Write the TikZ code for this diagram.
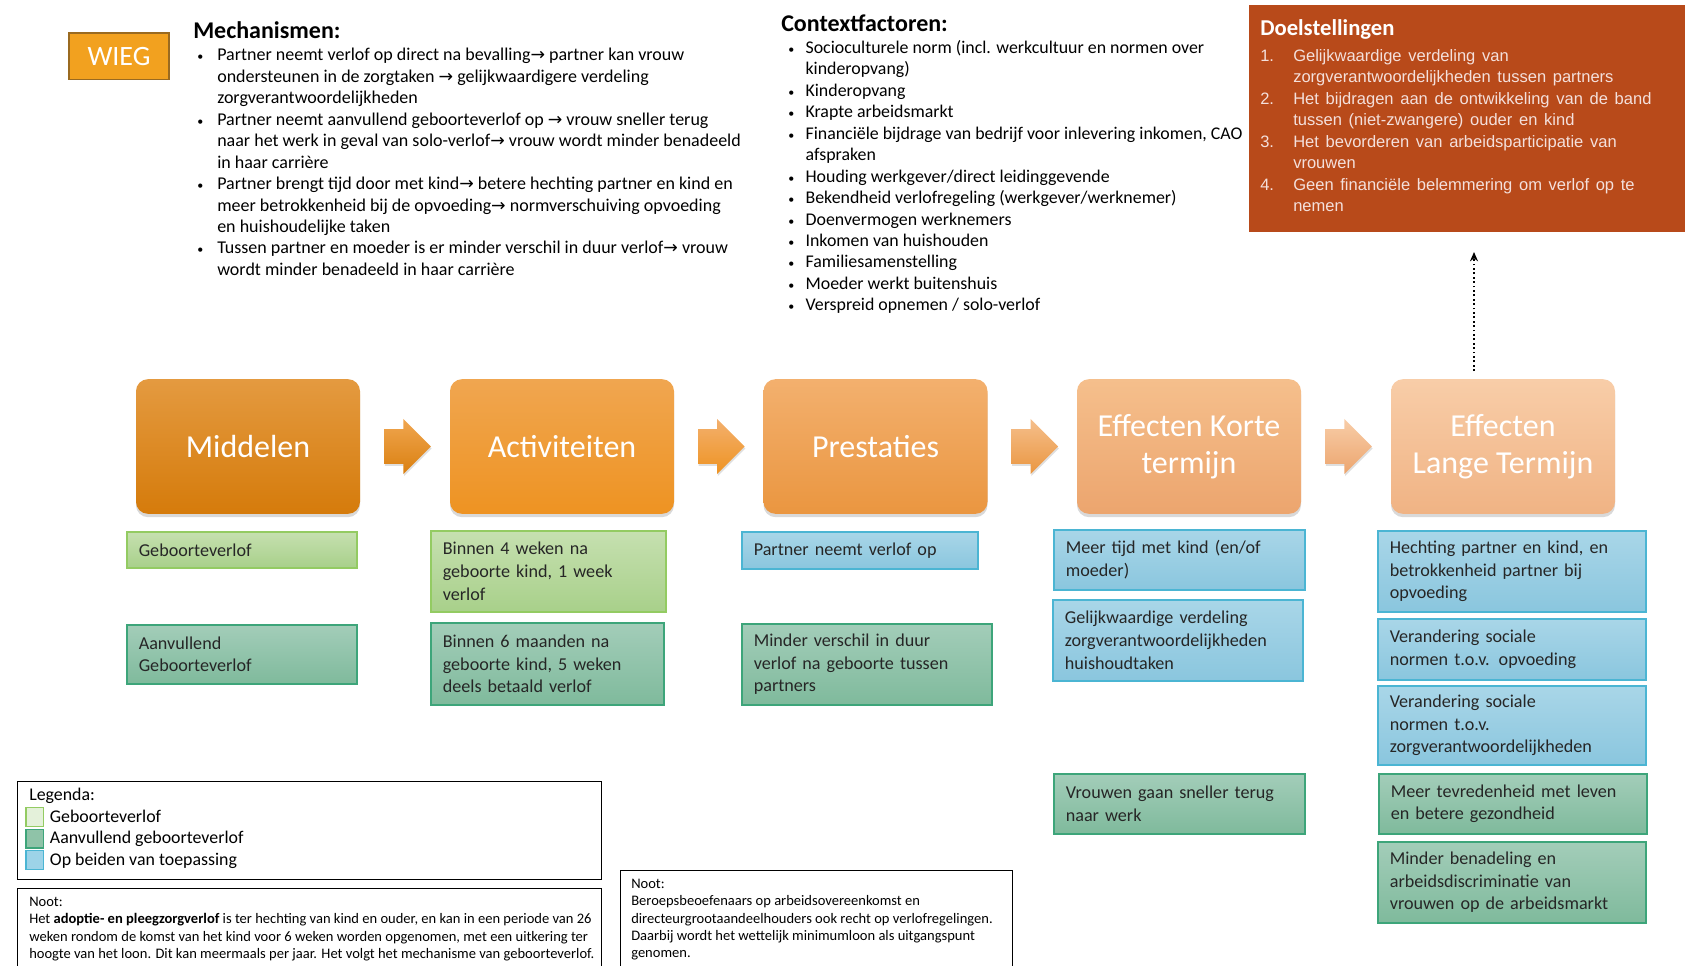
\documentclass[tikz,border=0pt]{standalone}
\usepackage{fontspec}
\setmainfont{Carlito}
\newfontfamily\arialfont{Liberation Sans}[WordSpace=1.45]
\newfontfamily\pijlfont{DejaVu Sans}
\usetikzlibrary{shapes.arrows,shadows,arrows.meta,calc}

\definecolor{doelrood}{HTML}{B84A1A}
\definecolor{doeltekst}{HTML}{F4E0DC}
\definecolor{wieg}{HTML}{F2A11F}
\definecolor{wiegrand}{HTML}{9A6A20}
\definecolor{gebrand}{HTML}{93CB62}
\definecolor{gebboven}{HTML}{C6E0B0}
\definecolor{gebonder}{HTML}{A8D08A}
\definecolor{gebvak}{HTML}{E4F1DA}
\definecolor{aanrand}{HTML}{3DA57A}
\definecolor{aanboven}{HTML}{A3CDB9}
\definecolor{aanonder}{HTML}{7FBA9C}
\definecolor{aanvak}{HTML}{8FC3A8}
\definecolor{beirand}{HTML}{4BB5D3}
\definecolor{beiboven}{HTML}{A9D6E8}
\definecolor{beionder}{HTML}{8AC6DE}
\definecolor{beivak}{HTML}{9DD3E8}
\definecolor{midboven}{HTML}{E49A40}
\definecolor{midonder}{HTML}{D57B0B}
\definecolor{actboven}{HTML}{F0A650}
\definecolor{actonder}{HTML}{EE9322}
\definecolor{preboven}{HTML}{F3B06E}
\definecolor{preonder}{HTML}{EA9640}
\definecolor{kortboven}{HTML}{F5BF8C}
\definecolor{kortonder}{HTML}{ECA56E}
\definecolor{langboven}{HTML}{F8CDA8}
\definecolor{langonder}{HTML}{F0B384}

\newcommand{\pijlr}{{\pijlfont\fontsize{13}{13}\selectfont →}}
\newcommand{\stip}{{\fontsize{9}{9}\selectfont\textbullet}}
\newcommand{\legvak}[2]{\raisebox{-2.5pt}{\setlength{\fboxrule}{1pt}\setlength{\fboxsep}{0pt}\fcolorbox{#1}{#2}{\rule{0pt}{13pt}\hspace{12pt}}}}

\tikzset{
   fase/.style={rectangle, rounded corners=9pt, minimum width=168pt,
      minimum height=101pt, text=white, align=center,
      font=\fontsize{24}{28}\selectfont,
      drop shadow={shadow xshift=0pt, shadow yshift=-2.5pt, opacity=0.3}},
   stap/.style={single arrow, inner xsep=0pt, inner ysep=12.75pt,
      single arrow head extend=7.75pt, minimum height=35pt, xshift=-4.5pt,
      drop shadow={shadow xshift=0.5pt, shadow yshift=-1.5pt, opacity=0.25}},
   blok/.style={rectangle, anchor=north west, align=left, inner xsep=9pt,
      inner ysep=2pt, line width=1.2pt, text=black!85,
      font=\fontsize{13.6}{17}\selectfont},
   gblok/.style={blok, draw=gebrand, top color=gebboven, bottom color=gebonder},
   ablok/.style={blok, draw=aanrand, top color=aanboven, bottom color=aanonder},
   bblok/.style={blok, draw=beirand, top color=beiboven, bottom color=beionder},
   tekst/.style={anchor=north west, inner sep=0pt, align=left},
   kader/.style={draw, line width=1pt, anchor=north west, inner sep=0pt}
}

\begin{document}
\begin{tikzpicture}[x=0.75pt, y=-0.75pt]
      \useasboundingbox (0,0) rectangle (1685,966);
      \clip (0,0) rectangle (1685,966);
      \def\Y{446.5}

      \node[draw=wiegrand, fill=wieg, line width=1pt, minimum width=75pt,
         minimum height=35pt, text=white, font=\fontsize{21}{24}\selectfont] (wieg) at (119,56.5) {WIEG};

      \node[tekst, font=\bfseries\fontsize{18}{22}\selectfont] (mechtitel) at (193,21) {Mechanismen:};
      \node[tekst, font=\fontsize{13.5}{16.1}\selectfont] (mech) at (197,48) {%
         \makebox[15pt][l]{\stip}Partner neemt verlof op direct na bevalling\pijlr\ partner kan vrouw\\
         \hspace*{15pt}ondersteunen in de zorgtaken \pijlr\ gelijkwaardigere verdeling\\
         \hspace*{15pt}zorgverantwoordelijkheden\\
         \makebox[15pt][l]{\stip}Partner neemt aanvullend geboorteverlof op \pijlr\ vrouw sneller terug\\
         \hspace*{15pt}naar het werk in geval van solo-verlof\pijlr\ vrouw wordt minder benadeeld\\
         \hspace*{15pt}in haar carrière\\
         \makebox[15pt][l]{\stip}Partner brengt tijd door met kind\pijlr\ betere hechting partner en kind en\\
         \hspace*{15pt}meer betrokkenheid bij de opvoeding\pijlr\ normverschuiving opvoeding\\
         \hspace*{15pt}en huishoudelijke taken\\
         \makebox[15pt][l]{\stip}Tussen partner en moeder is er minder verschil in duur verlof\pijlr\ vrouw\\
         \hspace*{15pt}wordt minder benadeeld in haar carrière};

      \node[tekst, font=\bfseries\fontsize{18}{22}\selectfont] (contexttitel) at (781,15) {Contextfactoren:};
      \node[tekst, font=\fontsize{13.4}{16.1}\selectfont] (context) at (788,40) {%
         \makebox[13pt][l]{\stip}Socioculturele norm (incl. werkcultuur en normen over\\
         \hspace*{13pt}kinderopvang)\\
         \makebox[13pt][l]{\stip}Kinderopvang\\
         \makebox[13pt][l]{\stip}Krapte arbeidsmarkt\\
         \makebox[13pt][l]{\stip}Financiële bijdrage van bedrijf voor inlevering inkomen, CAO\\
         \hspace*{13pt}afspraken\\
         \makebox[13pt][l]{\stip}Houding werkgever/direct leidinggevende\\
         \makebox[13pt][l]{\stip}Bekendheid verlofregeling (werkgever/werknemer)\\
         \makebox[13pt][l]{\stip}Doenvermogen werknemers\\
         \makebox[13pt][l]{\stip}Inkomen van huishouden\\
         \makebox[13pt][l]{\stip}Familiesamenstelling\\
         \makebox[13pt][l]{\stip}Moeder werkt buitenshuis\\
         \makebox[13pt][l]{\stip}Verspreid opnemen / solo-verlof};

      \node[anchor=north west, fill=doelrood, minimum width=327pt,
         minimum height=170.25pt, inner sep=0pt] (doel) at (1249,5) {};
      \node[tekst, text=white, font=\bfseries\fontsize{17}{20}\selectfont] (doeltitel) at (1260,19) {Doelstellingen};
      \node[tekst, text=doeltekst, font=\arialfont\fontsize{12.4}{16.1}\selectfont] (doellijst) at (1260,49) {%
         \makebox[24.75pt][l]{1.}Gelijkwaardige verdeling van\\
         \hspace*{24.75pt}zorgverantwoordelijkheden tussen partners\\
         \makebox[24.75pt][l]{2.}Het bijdragen aan de ontwikkeling van de band\\
         \hspace*{24.75pt}tussen (niet-zwangere) ouder en kind\\
         \makebox[24.75pt][l]{3.}Het bevorderen van arbeidsparticipatie van\\
         \hspace*{24.75pt}vrouwen\\
         \makebox[24.75pt][l]{4.}Geen financiële belemmering om verlof op te\\
         \hspace*{24.75pt}nemen};

      \coordinate (doelvan) at (1474,371);
      \coordinate (doelnaar) at (1474,252);
      \draw[dotted, line width=1.3pt, -{Stealth[length=7pt, width=6pt]}] (doelvan) -- (doelnaar);

      \node[fase, top color=midboven, bottom color=midonder] (middelen) at (248,\Y) {Middelen};
      \node[fase, top color=actboven, bottom color=actonder] (activiteiten) at (562,\Y) {Activiteiten};
      \node[fase, top color=preboven, bottom color=preonder] (prestaties) at (875.5,\Y) {Prestaties};
      \node[fase, top color=kortboven, bottom color=kortonder] (kort) at (1189,\Y) {Effecten Korte\\termijn};
      \node[fase, top color=langboven, bottom color=langonder] (lang) at (1503,\Y) {Effecten\\Lange Termijn};

      \node[stap, top color=actboven, bottom color=midonder!80!actonder] (s1) at ($(middelen.east)!0.5!(activiteiten.west)$) {};
      \node[stap, top color=preboven, bottom color=actonder] (s2) at ($(activiteiten.east)!0.5!(prestaties.west)$) {};
      \node[stap, top color=kortboven, bottom color=preonder] (s3) at ($(prestaties.east)!0.5!(kort.west)$) {};
      \node[stap, top color=langboven, bottom color=kortonder] (s4) at ($(kort.east)!0.5!(lang.west)$) {};

      \node[gblok, text width=154.5pt, minimum height=27pt] (geb) at (126,531) {Geboorteverlof};
      \node[ablok, text width=154.5pt, minimum height=44.25pt] (aanv) at (126,624) {Aanvullend\\Geboorteverlof};
      \node[gblok, text width=158.25pt, minimum height=60.75pt] (act1) at (430,530) {Binnen 4 weken na\\geboorte kind, 1 week\\verlof};
      \node[ablok, text width=156.75pt, minimum height=61.5pt] (act2) at (430,622) {Binnen 6 maanden na\\geboorte kind, 5 weken\\deels betaald verlof};
      \node[bblok, text width=159pt, minimum height=27.75pt] (pres1) at (741,531) {Partner neemt verlof op};
      \node[ablok, text width=169.5pt, minimum height=60.75pt] (pres2) at (741,623) {Minder verschil in duur\\verlof na geboorte tussen\\partners};
      \node[bblok, text width=170.25pt, minimum height=45pt] (kort1) at (1053,529) {Meer tijd met kind (en/of\\moeder)};
      \node[bblok, text width=169.5pt, minimum height=60.75pt] (kort2) at (1052,599) {Gelijkwaardige verdeling\\zorgverantwoordelijkheden\\huishoudtaken};
      \node[ablok, text width=170.25pt, minimum height=45pt] (kort3) at (1053,773) {Vrouwen gaan sneller terug\\naar werk};
      \node[bblok, text width=183pt, minimum height=60.75pt] (lang1) at (1377,530) {Hechting partner en kind, en\\betrokkenheid partner bij\\opvoeding};
      \node[bblok, text width=183pt, minimum height=45.75pt] (lang2) at (1377,618) {Verandering sociale\\normen t.o.v. opvoeding};
      \node[bblok, text width=183pt, minimum height=59.25pt] (lang3) at (1377,685) {Verandering sociale\\normen t.o.v.\\zorgverantwoordelijkheden};
      \node[ablok, text width=183pt, minimum height=45pt] (lang4) at (1378,773) {Meer tevredenheid met leven\\en betere gezondheid};
      \node[ablok, text width=183pt, minimum height=60.75pt] (lang5) at (1377,841) {Minder benadeling en\\arbeidsdiscriminatie van\\vrouwen op de arbeidsmarkt};

      \node[kader, minimum width=438pt, minimum height=73.5pt] (legenda) at (17,781) {};
      \node[tekst, font=\fontsize{13.4}{16.2}\selectfont] (legtekst) at (25,788) {%
         \hspace*{3pt}Legenda:\\
         \legvak{gebrand}{gebvak}\hspace{4.5pt}Geboorteverlof\\
         \legvak{aanrand}{aanvak}\hspace{4.5pt}Aanvullend geboorteverlof\\
         \legvak{beirand}{beivak}\hspace{4.5pt}Op beiden van toepassing};

      \node[kader, minimum width=438pt, minimum height=100pt] (noot1) at (17,888) {};
      \node[tekst, font=\fontsize{10.9}{13}\selectfont] (noot1tekst) at (29,897) {%
         Noot:\\
         Het \textbf{adoptie- en pleegzorgverlof} is ter hechting van kind en ouder, en kan in een periode van 26\\
         weken rondom de komst van het kind voor 6 weken worden opgenomen, met een uitkering ter\\
         hoogte van het loon. Dit kan meermaals per jaar. Het volgt het mechanisme van geboorteverlof.};

      \node[kader, minimum width=294pt, minimum height=100pt] (noot2) at (620,870) {};
      \node[tekst, font=\fontsize{10.9}{13}\selectfont] (noot2tekst) at (631,879) {%
         Noot:\\
         Beroepsbeoefenaars op arbeidsovereenkomst en\\
         directeurgrootaandeelhouders ook recht op verlofregelingen.\\
         Daarbij wordt het wettelijk minimumloon als uitgangspunt\\
         genomen.};
\end{tikzpicture}
\end{document}
